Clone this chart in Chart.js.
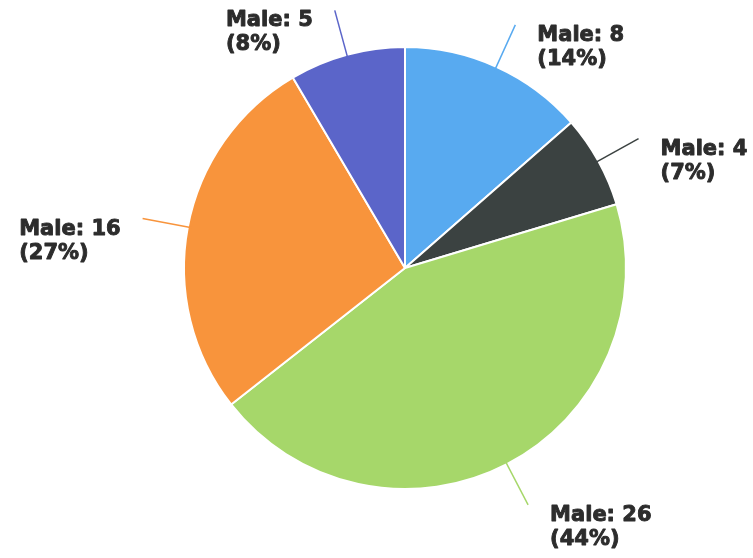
<!DOCTYPE html>
<html>
<head>
<meta charset="utf-8">
<script src="https://cdn.jsdelivr.net/npm/chart.js@4"></script>
<style>
    body { margin: 0; background: #fff; }
    #wrap { width: 753px; height: 558px; }
</style>
</head>
<body>
<div id="wrap"><canvas id="grafico"></canvas></div>
<script>
const categorias = ['Male', 'Male', 'Male', 'Male', 'Male'];
const valores = [8, 4, 26, 16, 5];
const percentuais = ['14%', '7%', '44%', '27%', '8%'];
const cores = ['#58aaf0', '#3b4241', '#a6d76a', '#f8943c', '#5b65c9'];

// rótulos com linha de chamada
const rotulos = {
    id: 'rotulos',
    afterDraw(chart) {
        const ctx = chart.ctx;
        const meta = chart.getDatasetMeta(0);
        ctx.save();
        ctx.font = 'bold 21px "DejaVu Sans"';
        ctx.fillStyle = '#2c2c2c';
        ctx.strokeStyle = '#2c2c2c';
        meta.data.forEach((arc, i) => {
            const mid = (arc.startAngle + arc.endAngle) / 2;
            const cx = Math.cos(mid), cy = Math.sin(mid);
            const r = arc.outerRadius;
            const x1 = arc.x + cx * (r - 4), y1 = arc.y + cy * (r - 4);
            const x2 = arc.x + cx * (r + 46), y2 = arc.y + cy * (r + 46);
            ctx.save();
            ctx.strokeStyle = cores[i];
            ctx.lineWidth = 1.5;
            ctx.beginPath();
            ctx.moveTo(x1, y1);
            ctx.lineTo(x2, y2);
            ctx.stroke();
            ctx.restore();

            const l1 = categorias[i] + ': ' + valores[i];
            const l2 = '(' + percentuais[i] + ')';
            let tx;
            if (cx >= 0) {
                tx = x2 + 22;
            } else {
                tx = x2 - 22 - ctx.measureText(l1).width;
            }
            ctx.textAlign = 'left';
            ctx.textBaseline = 'alphabetic';
            ctx.lineWidth = 0.9;
            ctx.lineJoin = 'round';
            [[l1, y2 + 16], [l2, y2 + 40]].forEach(([t, ty]) => {
                ctx.strokeText(t, tx, ty);
                ctx.fillText(t, tx, ty);
            });
        });
        ctx.restore();
    }
};

window.addEventListener('DOMContentLoaded', () => {
    const ctx = document.getElementById('grafico').getContext('2d');

    new Chart(ctx, {
        type: 'pie',
        data: {
            labels: categorias,
            datasets: [{
                data: valores,
                backgroundColor: cores,
                borderColor: '#ffffff',
                borderWidth: 2,
                hoverOffset: 0
            }]
        },
        options: {
            responsive: true,
            maintainAspectRatio: false,
            animation: false,
            layout: { padding: { left: 183, right: 126, top: 46, bottom: 68 } },
            plugins: {
                legend: { display: false },
                tooltip: { enabled: false }
            }
        },
        plugins: [rotulos]
    });
});
</script>
</body>
</html>
